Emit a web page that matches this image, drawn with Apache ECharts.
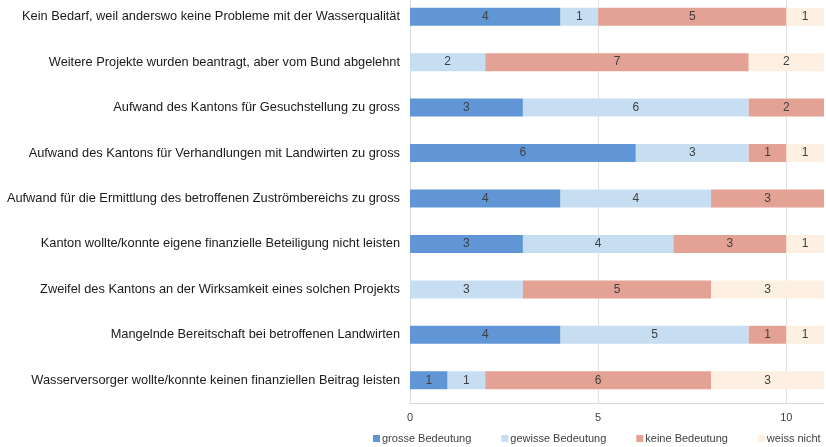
<!DOCTYPE html>
<html>
<head>
<meta charset="utf-8">
<script src="https://cdn.jsdelivr.net/npm/echarts@6/dist/echarts.min.js"></script>
<style>
  html, body { margin: 0; padding: 0; background: #fff; overflow: hidden; }
  #chart { width: 826px; height: 453px; margin-top: -6px; }
</style>
</head>
<body>
<div id="chart"></div>
<script>
// categories top to bottom
var categories = [
    'Kein Bedarf, weil anderswo keine Probleme mit der Wasserqualität',
    'Weitere Projekte wurden beantragt, aber vom Bund abgelehnt',
    'Aufwand des Kantons für Gesuchstellung zu gross',
    'Aufwand des Kantons für Verhandlungen mit Landwirten zu gross',
    'Aufwand für die Ermittlung des betroffenen Zuströmbereichs zu gross',
    'Kanton wollte/konnte eigene finanzielle Beteiligung nicht leisten',
    'Zweifel des Kantons an der Wirksamkeit eines solchen Projekts',
    'Mangelnde Bereitschaft bei betroffenen Landwirten',
    'Wasserversorger wollte/konnte keinen finanziellen Beitrag leisten'
];
var grosse  = [4, 0, 3, 6, 4, 3, 0, 4, 1];
var gewisse = [1, 2, 6, 3, 4, 4, 3, 5, 1];
var keine   = [5, 7, 2, 1, 3, 3, 5, 1, 6];
var weiss   = [1, 2, 0, 1, 0, 1, 3, 1, 3];

var seriesNames = ['grosse Bedeutung', 'gewisse Bedeutung', 'keine Bedeutung', 'weiss nicht'];
var seriesData = [grosse, gewisse, keine, weiss];
var colors = ['#6096d6', '#c7ddf1', '#e3a294', '#fdefe2'];

var font = 'Arial, "Liberation Sans", sans-serif';

var myChart = echarts.init(document.getElementById('chart'));

var series = [];
for (var i = 0; i < seriesNames.length; i++) {
    series.push({
        name: seriesNames[i],
        type: 'bar',
        stack: 'total',
        barWidth: 18,
        data: seriesData[i],
        itemStyle: { color: colors[i] },
        label: {
            show: true,
            position: 'inside',
            color: '#404040',
            fontSize: 12,
            fontFamily: font,
            formatter: function (p) { return p.value ? p.value : ''; }
        }
    });
}

// the div is shifted up 6px so the first band starts above the page edge
var option = {
    animation: false,
    color: colors,
    grid: { left: 410, right: 2, top: 0, bottom: 44, containLabel: false },
    legend: {
        data: seriesNames,
        left: 368,
        top: 434,
        itemWidth: 7,
        itemHeight: 7,
        itemGap: 30,
        icon: 'rect',
        textStyle: { color: '#404040', fontSize: 11, fontFamily: font, padding: [0, 0, 0, -3] }
    },
    xAxis: {
        type: 'value',
        min: 0,
        max: 11,
        interval: 5,
        axisLine: { show: true, lineStyle: { color: '#d9d9d9' } },
        axisTick: { show: false },
        splitLine: { show: true, showMaxLine: false, lineStyle: { color: '#e0e0e0' } },
        axisLabel: { color: '#404040', fontSize: 11, fontFamily: font, margin: 9, showMaxLabel: false }
    },
    yAxis: {
        type: 'category',
        inverse: true,
        data: categories,
        axisLine: { show: true, lineStyle: { color: '#d9d9d9' } },
        axisTick: { show: false },
        axisLabel: { color: '#1a1a1a', fontSize: 12.8, fontFamily: font, margin: 10 }
    },
    series: series
};

myChart.setOption(option);
</script>
</body>
</html>
